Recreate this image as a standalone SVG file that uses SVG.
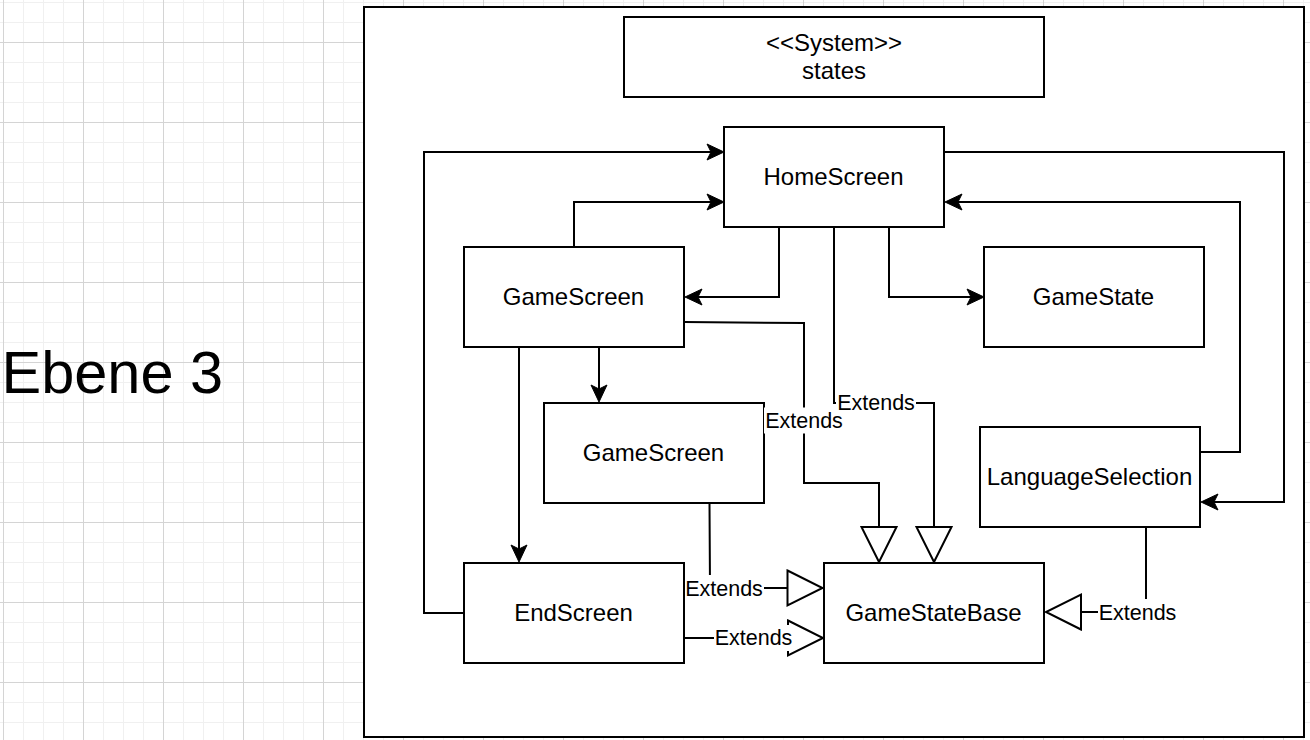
<svg xmlns="http://www.w3.org/2000/svg" width="1310" height="740" viewBox="0 0 1310 740">
<style>
.box{fill:#fff;stroke:#000;stroke-width:2}
.lbl{font-family:"Liberation Sans",Arial,Helvetica,sans-serif;font-size:24px;fill:#000;text-anchor:middle}
.edge{fill:none;stroke:#000;stroke-width:2}
.arr{marker-end:url(#classic)}
.ext{marker-end:url(#tri)}
.ebg{fill:#fff;stroke:none}
.etx{font-family:"Liberation Sans",Arial,Helvetica,sans-serif;font-size:21.5px;fill:#000;text-anchor:middle}
</style>
<defs>
<pattern id="grid" patternUnits="userSpaceOnUse" x="3" y="42" width="80" height="80">
<rect x="0" y="0" width="80" height="80" fill="#fff"/>
<rect x="20" y="0" width="1" height="80" fill="#f0f0f0"/>
<rect x="40" y="0" width="1" height="80" fill="#f0f0f0"/>
<rect x="60" y="0" width="1" height="80" fill="#f0f0f0"/>
<rect x="0" y="20" width="80" height="1" fill="#f0f0f0"/>
<rect x="0" y="40" width="80" height="1" fill="#f0f0f0"/>
<rect x="0" y="60" width="80" height="1" fill="#f0f0f0"/>
<rect x="0" y="0" width="1" height="80" fill="#d4d4d4"/>
<rect x="0" y="0" width="80" height="1" fill="#d4d4d4"/>
</pattern>
<marker id="classic" markerUnits="userSpaceOnUse" markerWidth="20" markerHeight="20" viewBox="0 -10 20 20" refX="4" refY="0" orient="auto" overflow="visible">
<path d="M0,-8 L17,0 L0,8 L4,0 Z" fill="#000" stroke="#000" stroke-width="1" stroke-linejoin="miter"/>
</marker>
<marker id="tri" markerUnits="userSpaceOnUse" markerWidth="40" markerHeight="40" viewBox="0 -20 40 40" refX="0" refY="0" orient="auto" overflow="visible">
<path d="M0,-17.5 L35,0 L0,17.5 Z" fill="#fff" stroke="#000" stroke-width="2"/>
</marker>
</defs>
<rect x="0" y="0" width="1310" height="740" fill="url(#grid)"/>
<text x="1.5" y="393" font-family="'Liberation Sans',Arial,Helvetica,sans-serif" font-size="59.5" fill="#000">Ebene 3</text>
<rect id="container" x="364" y="7" width="940" height="730" class="box"/>

<g id="system"><rect x="624" y="17" width="420" height="80" class="box"/><text class="lbl" x="834" y="51">&lt;&lt;System&gt;&gt;</text><text class="lbl" x="834" y="79">states</text></g>
<g id="homescreen"><rect x="724" y="127" width="220" height="100" class="box"/><text class="lbl" x="833.5" y="185">HomeScreen</text></g>
<g id="gamescreen1"><rect x="464" y="247" width="220" height="100" class="box"/><text class="lbl" x="573.5" y="305">GameScreen</text></g>
<g id="gamestate"><rect x="984" y="247" width="220" height="100" class="box"/><text class="lbl" x="1093.5" y="305">GameState</text></g>
<g id="gamescreen2"><rect x="544" y="403" width="220" height="100" class="box"/><text class="lbl" x="653.5" y="461">GameScreen</text></g>
<g id="languageselection"><rect x="980" y="427" width="220" height="100" class="box"/><text class="lbl" x="1089.5" y="485">LanguageSelection</text></g>
<g id="endscreen"><rect x="464" y="563" width="220" height="100" class="box"/><text class="lbl" x="573.5" y="621">EndScreen</text></g>
<g id="gamestatebase"><rect x="824" y="563" width="220" height="100" class="box"/><text class="lbl" x="933.5" y="621">GameStateBase</text></g>

<g id="connectors">
<path class="edge arr" d="M464,613 H424 V152 H711"/>
<path class="edge arr" d="M574,247 V202 H711"/>
<path class="edge arr" d="M779,227 V297 H698"/>
<path class="edge arr" d="M889,227 V297 H971"/>
<path class="edge arr" d="M944,152 H1284 V502 H1214"/>
<path class="edge arr" d="M1200,452 H1240 V202 H958"/>
<path class="edge arr" d="M519,347 V549"/>
<path class="edge arr" d="M599,347 V389"/>
<path class="edge ext" d="M684,322 L804,323 V483 H879 V527"/>
<path class="edge ext" d="M834,227 V403 H934 V527"/>
<path class="edge ext" d="M709.5,503 L710,588 H787.5"/>
<path class="edge ext" d="M684,638 H788"/>
<path class="edge ext" d="M1146,527 L1146,612 H1081"/>
<g id="edge-labels">
<rect class="ebg" x="764" y="407.5" width="80" height="26"/>
<rect class="ebg" x="836" y="390" width="80" height="25"/>
<rect class="ebg" x="685" y="575" width="79" height="26"/>
<rect class="ebg" x="714" y="625" width="79" height="26"/>
<rect class="ebg" x="1098" y="599" width="80" height="26"/>
<text class="etx" x="804" y="427.5">Extends</text>
<text class="etx" x="876" y="409.5">Extends</text>
<text class="etx" x="724" y="595.5">Extends</text>
<text class="etx" x="753.5" y="645">Extends</text>
<text class="etx" x="1137.5" y="619.5">Extends</text>
</g>
</g>
</svg>
